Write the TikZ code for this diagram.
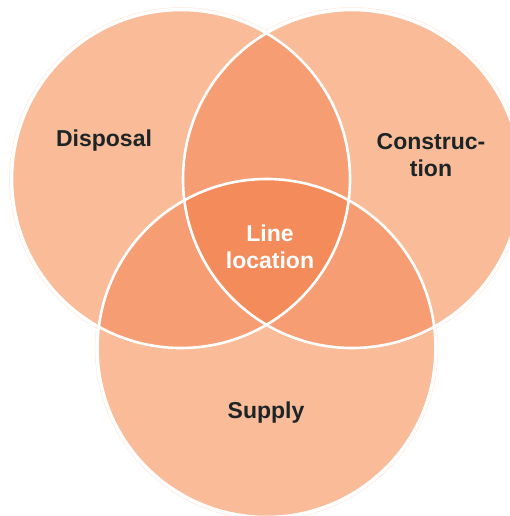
\documentclass[tikz,border=0pt]{standalone}
\usepackage{fontspec}
\setmainfont{Liberation Sans}
\definecolor{peach}{RGB}{249,187,152}
\definecolor{apricot}{RGB}{246,157,115}
\definecolor{coral}{RGB}{243,139,91}
\definecolor{ink}{RGB}{28,36,38}
\begin{document}
\begin{tikzpicture}[x=1pt,y=-1pt, line join=round,
  lbl/.style={font=\bfseries\fontsize{23}{27}\selectfont, text=ink, align=center, inner sep=0pt}]
\useasboundingbox (0,0) rectangle (510,516);
\coordinate (cL) at (181,179);
\coordinate (cR) at (352,179);
\coordinate (cB) at (266.5,348);
\foreach \c in {cL,cR,cB} \draw[peach!35, line width=0.5pt] (\c) circle [radius=171.5pt];
\foreach \c in {cL,cR,cB} \fill[peach] (\c) circle [radius=169pt];
\begin{scope}
\clip (cL) circle [radius=169pt];
\fill[apricot] (cR) circle [radius=169pt];
\fill[apricot] (cB) circle [radius=169pt];
\end{scope}
\begin{scope}
\clip (cR) circle [radius=169pt];
\fill[apricot] (cB) circle [radius=169pt];
\end{scope}
\begin{scope}
\clip (cL) circle [radius=169pt];
\clip (cR) circle [radius=169pt];
\fill[coral] (cB) circle [radius=169pt];
\end{scope}
\foreach \c in {cL,cR,cB} \draw[white, line width=2.6pt] (\c) circle [radius=169pt];
\node[lbl] (disposal) at (104,141) {Disposal};
\node[lbl] (construction) at (431,155) {Construc-\\tion};
\node[lbl, text=white] (lineloc) at (270,247) {Line\\location};
\node[lbl] (supply) at (266,413) {Supply};
\end{tikzpicture}
\end{document}
